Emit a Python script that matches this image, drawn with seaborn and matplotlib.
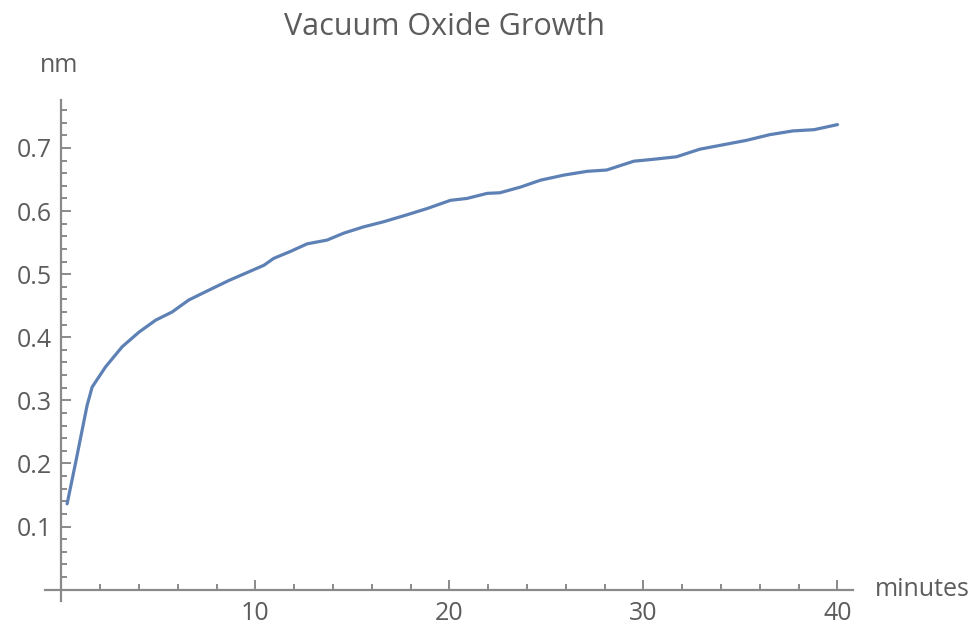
import matplotlib
matplotlib.use("Agg")
import matplotlib.pyplot as plt
from matplotlib.ticker import MultipleLocator
import seaborn as sns
import pandas as pd

# Oxide thickness (nm) measured against time in vacuum (minutes)
minutes = [0.29, 0.72, 1.32, 1.58, 2.27, 3.13, 3.99, 4.85, 5.7, 6.56, 7.42, 8.63,
           9.23, 10.43, 10.94, 11.8, 12.66, 13.69, 14.55, 15.58, 16.6, 17.8, 18.85,
           20.05, 20.9, 21.94, 22.6, 23.66, 24.7, 25.9, 27.1, 28.1, 29.5, 30.5,
           31.7, 32.9, 34.1, 35.3, 36.5, 37.7, 38.8, 40.0]
thickness_nm = [0.136, 0.200, 0.292, 0.321, 0.353, 0.385, 0.408, 0.427, 0.440, 0.459,
                0.472, 0.490, 0.498, 0.514, 0.525, 0.536, 0.548, 0.554, 0.565, 0.575,
                0.583, 0.594, 0.604, 0.617, 0.620, 0.628, 0.629, 0.638, 0.649, 0.657,
                0.663, 0.665, 0.679, 0.682, 0.686, 0.698, 0.705, 0.712, 0.721, 0.727,
                0.729, 0.737]

x_major = [10, 20, 30, 40]
x_major_labels = ["10", "20", "30", "40"]
y_major = [0.1, 0.2, 0.3, 0.4, 0.5, 0.6, 0.7]
y_major_labels = ["0.1", "0.2", "0.3", "0.4", "0.5", "0.6", "0.7"]

df = pd.DataFrame({"minutes": minutes, "nm": thickness_nm})

sns.set_style("white")
plt.rcParams["font.family"] = ["Open Sans", "DejaVu Sans"]

axis_gray = "#8a8a8a"
text_gray = "#5c5c5c"
line_blue = "#5E81B5"

fig = plt.figure(figsize=(9.76, 6.28), dpi=100)
ax = fig.add_axes([45 / 976, 1 - 601 / 628, (853 - 45) / 976, (601 - 100) / 628])

sns.lineplot(data=df, x="minutes", y="nm", ax=ax, color=line_blue, linewidth=2.3)

ax.set_xlim(-0.85, 40.8)
ax.set_ylim(-0.018, 0.776)

for side in ["top", "right"]:
    ax.spines[side].set_visible(False)
for side in ["left", "bottom"]:
    ax.spines[side].set_position(("data", 0))
    ax.spines[side].set_color(axis_gray)
    ax.spines[side].set_linewidth(1.6)

ax.set_xticks(x_major)
ax.set_xticklabels(x_major_labels)
ax.set_yticks(y_major)
ax.set_yticklabels(y_major_labels)
ax.xaxis.set_minor_locator(MultipleLocator(2))
ax.yaxis.set_minor_locator(MultipleLocator(0.02))

ax.tick_params(which="both", direction="in", color=axis_gray, width=1.4,
               bottom=True, left=True, top=False, right=False)
ax.tick_params(which="major", length=7.5)
ax.tick_params(which="minor", length=4.5)
ax.tick_params(axis="both", which="major", labelsize=18, labelcolor=text_gray)
ax.tick_params(axis="y", which="major", pad=7)
ax.tick_params(axis="x", which="major", pad=8)

ax.set_xlabel("")
ax.set_ylabel("")

fig.text(445 / 976, 1 - 27 / 628, "Vacuum Oxide Growth", ha="center", va="center",
         fontsize=22, color=text_gray)
fig.text(59 / 976, 1 - 66 / 628, "nm", ha="center", va="center",
         fontsize=18, color=text_gray)
fig.text(875 / 976, 1 - 590 / 628, "minutes", ha="left", va="center",
         fontsize=18, color=text_gray)

fig.savefig("out.png", dpi=100, facecolor="white")
